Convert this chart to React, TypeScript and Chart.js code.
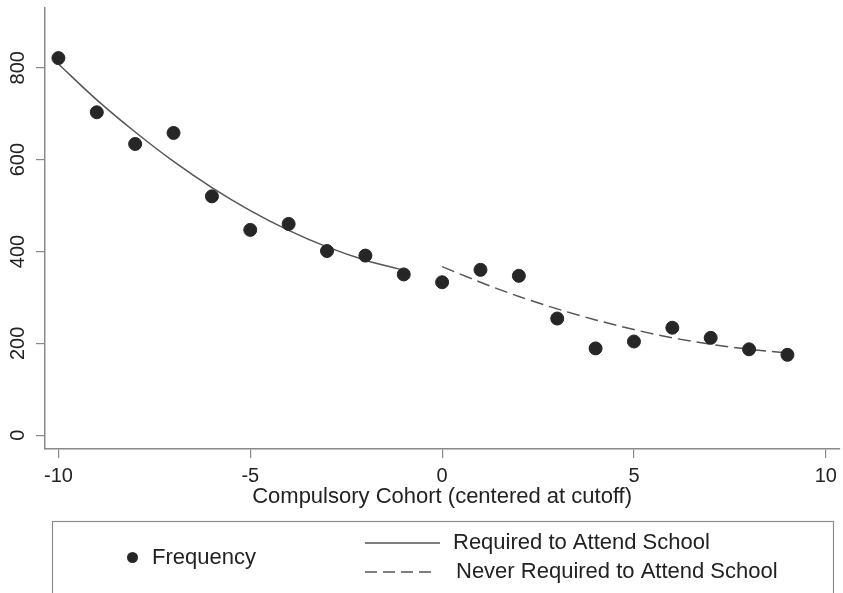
import React, { useEffect, useRef } from "react";
import { Chart, registerables } from "chart.js";

Chart.register(...registerables);

const cohorts = [-10, -9, -8, -7, -6, -5, -4, -3, -2, -1, 0, 1, 2, 3, 4, 5, 6, 7, 8, 9];
const frequency = [821, 703, 634, 658, 520, 447, 460, 401, 391, 350, 333, 360, 347, 254, 189, 204, 234, 212, 187, 175];
const requiredX = [-10, -9, -8, -7, -6, -5, -4, -3, -2, -1];
const requiredFit = [808, 730, 660, 596, 539, 489, 446, 410, 381, 359];
const neverX = [0, 1, 2, 3, 4, 5, 6, 7, 8, 9];
const neverFit = [367, 333, 302, 275, 251, 230, 212, 198, 187, 179];
const xTicks = [-10, -5, 0, 5, 10];
const yTicks = [0, 200, 400, 600, 800];
const xTitle = "Compulsory Cohort (centered at cutoff)";
const legendLabels = ["Frequency", "Required to Attend School", "Never Required to Attend School"];

const FONT = "'Liberation Sans', Arial, sans-serif";
const TEXT = "#222";
const AXIS = "#8a8a8a";
const LINE = "#555";
const DOT = "#262626";

const overlay = {
  id: "overlay",
  afterDraw(chart: any) {
    const ctx = chart.ctx;
    const y = chart.scales.y;
    const x = chart.scales.x;
    ctx.save();
    ctx.fillStyle = TEXT;
    ctx.font = `20px ${FONT}`;
    ctx.textAlign = "center";
    ctx.textBaseline = "middle";
    for (const v of yTicks) {
      const py = y.getPixelForValue(v);
      ctx.save();
      ctx.translate(18, py);
      ctx.rotate(-Math.PI / 2);
      ctx.fillText(String(v), 0, 0);
      ctx.restore();
    }
    for (const v of xTicks) {
      ctx.fillText(String(v), x.getPixelForValue(v), 476);
    }
    ctx.font = `22px ${FONT}`;
    ctx.fillText(xTitle, x.getPixelForValue(0), 497);

    // legend box
    ctx.strokeStyle = "#8a8a8a";
    ctx.lineWidth = 1.2;
    ctx.strokeRect(52.5, 521.5, 781, 80);

    ctx.fillStyle = DOT;
    ctx.beginPath();
    ctx.arc(132.5, 557.5, 5.5, 0, Math.PI * 2);
    ctx.fill();

    ctx.fillStyle = TEXT;
    ctx.textAlign = "left";
    ctx.fillText(legendLabels[0], 152, 558);
    ctx.fillText(legendLabels[1], 453, 543);
    ctx.fillText(legendLabels[2], 456, 572);

    ctx.strokeStyle = LINE;
    ctx.lineWidth = 1.5;
    ctx.beginPath();
    ctx.moveTo(365, 543);
    ctx.lineTo(440, 543);
    ctx.stroke();
    ctx.setLineDash([12, 6]);
    ctx.beginPath();
    ctx.moveTo(365, 572);
    ctx.lineTo(433, 572);
    ctx.stroke();
    ctx.restore();
  },
};

export default function App() {
  const ref = useRef<HTMLCanvasElement | null>(null);
  useEffect(() => {
    document.body.style.margin = "0";
    const canvas = ref.current!;
    const chart = new Chart(canvas, {
      type: "scatter",
      data: {
        datasets: [
          {
            label: legendLabels[0],
            data: cohorts.map((c, i) => ({ x: c, y: frequency[i] })),
            backgroundColor: DOT,
            borderColor: DOT,
            pointRadius: 6.5,
            pointHoverRadius: 6.5,
            order: 0,
          },
          {
            label: legendLabels[1],
            data: requiredX.map((c, i) => ({ x: c, y: requiredFit[i] })),
            showLine: true,
            borderColor: LINE,
            borderWidth: 1.5,
            pointRadius: 0,
            tension: 0.4,
            cubicInterpolationMode: "monotone",
            order: 1,
          } as any,
          {
            label: legendLabels[2],
            data: neverX.map((c, i) => ({ x: c, y: neverFit[i] })),
            showLine: true,
            borderColor: LINE,
            borderWidth: 1.5,
            borderDash: [13, 6],
            pointRadius: 0,
            tension: 0.4,
            cubicInterpolationMode: "monotone",
            order: 2,
          } as any,
        ],
      },
      options: {
        animation: false,
        responsive: false,
        layout: { autoPadding: false, padding: { top: 8, right: 3, left: 0, bottom: 0 } },
        plugins: { legend: { display: false }, tooltip: { enabled: false } },
        scales: {
          x: {
            type: "linear",
            min: -10.35,
            max: 10.37,
            afterBuildTicks: (s: any) => {
              s.ticks = xTicks.map((v) => ({ value: v }));
            },
            afterFit: (s: any) => {
              s.height = 144;
            },
            border: { display: true, color: AXIS, width: 1.5 },
            grid: { drawOnChartArea: false, drawTicks: true, tickLength: 9, color: AXIS, lineWidth: 1.2 },
            ticks: { display: false },
          },
          y: {
            type: "linear",
            min: -30,
            max: 930,
            afterBuildTicks: (s: any) => {
              s.ticks = yTicks.map((v) => ({ value: v }));
            },
            afterFit: (s: any) => {
              s.width = 45;
            },
            border: { display: true, color: AXIS, width: 1.5 },
            grid: { drawOnChartArea: false, drawTicks: true, tickLength: 9, color: AXIS, lineWidth: 1.2 },
            ticks: { display: false },
          },
        },
      },
      plugins: [overlay],
    });
    return () => chart.destroy();
  }, []);
  return (
    <div style={{ position: "absolute", left: 0, top: 0, width: 843, height: 593, background: "#fff" }}>
      <canvas ref={ref} width={843} height={593} style={{ width: 843, height: 593, display: "block" }} />
    </div>
  );
}
